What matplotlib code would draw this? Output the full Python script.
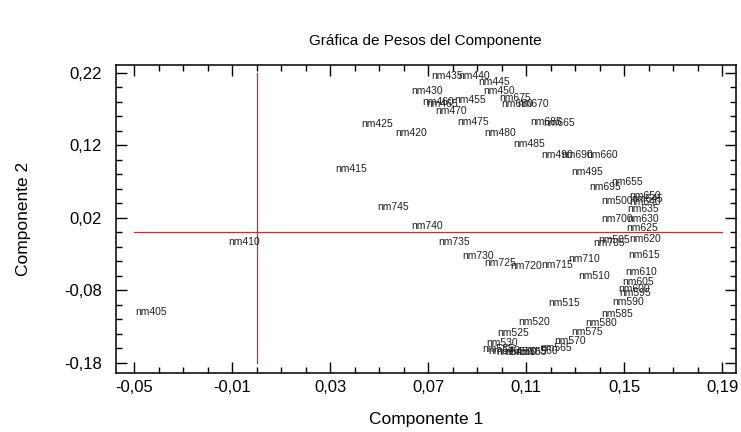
import matplotlib
matplotlib.use("Agg")
import matplotlib.pyplot as plt
from matplotlib.ticker import MultipleLocator, FuncFormatter

plt.rcParams['font.family'] = ['Liberation Sans', 'DejaVu Sans']

# wavelengths (labels) and component weights
labels = ["nm%d" % w for w in range(405, 750, 5)]
comp1 = [-0.0433, -0.0053, 0.0384, 0.0629, 0.0490, 0.0694, 0.0776, 0.0886, 0.0967, 0.0988,
         0.0869, 0.0739, 0.0755, 0.0792, 0.0882, 0.0992, 0.1110, 0.1224, 0.1350, 0.1470,
         0.1460, 0.1376, 0.1253, 0.1130, 0.1045, 0.1000, 0.0984, 0.1010, 0.1040, 0.1078,
         0.1118, 0.1163, 0.1220, 0.1278, 0.1347, 0.1404, 0.1470, 0.1514, 0.1543, 0.1539,
         0.1555, 0.1567, 0.1580, 0.1584, 0.1571, 0.1576, 0.1576, 0.1584, 0.1592, 0.1584,
         0.1510, 0.1408, 0.1233, 0.1127, 0.1053, 0.1061, 0.1180, 0.1306, 0.1420, 0.1470,
         0.1437, 0.1335, 0.1224, 0.1100, 0.0992, 0.0902, 0.0804, 0.0694, 0.0555]
comp2 = [-0.110, -0.013, 0.0876, 0.137, 0.150, 0.195, 0.216, 0.216, 0.2076, 0.195,
         0.183, 0.180, 0.177, 0.168, 0.152, 0.137, 0.122, 0.107, 0.0834, 0.0434,
         -0.0103, -0.060, -0.097, -0.1234, -0.1386, -0.152, -0.1607, -0.1634, -0.1648, -0.1648,
         -0.1648, -0.1634, -0.159, -0.150, -0.137, -0.125, -0.112, -0.096, -0.083, -0.078,
         -0.068, -0.0545, -0.031, -0.009, 0.0062, 0.0186, 0.0324, 0.042, 0.0462, 0.050,
         0.0697, 0.107, 0.151, 0.177, 0.1855, 0.177, 0.152, 0.107, 0.0628, 0.0186,
         -0.0145, -0.0366, -0.0448, -0.046, -0.042, -0.0324, -0.013, 0.009, 0.035]

x_ticks = [-0.05, -0.01, 0.03, 0.07, 0.11, 0.15, 0.19]
y_ticks = [-0.18, -0.08, 0.02, 0.12, 0.22]

fig = plt.figure(figsize=(7.41, 4.32), dpi=100)
ax = fig.add_axes([0.1565, 0.1366, 0.8365, 0.7129])

for lab, x, y in zip(labels, comp1, comp2):
    ax.text(x, y, lab, fontsize=7.5, ha='center', va='center', color='#202020')

red = '#d42a2a'
ax.plot([x_ticks[0], x_ticks[-1]], [0, 0], color=red, lw=0.9)
ax.plot([0, 0], [y_ticks[0], y_ticks[-1]], color=red, lw=0.9)

ax.set_xlim(-0.0575, 0.1955)
ax.set_ylim(-0.194, 0.231)
ax.set_xticks(x_ticks)
ax.set_yticks(y_ticks)
ax.xaxis.set_minor_locator(MultipleLocator(0.01))
ax.yaxis.set_minor_locator(MultipleLocator(0.02))
fmt = FuncFormatter(lambda v, p: ("%.2f" % v).replace('.', ','))
ax.xaxis.set_major_formatter(fmt)
ax.yaxis.set_major_formatter(fmt)
ax.tick_params(which='both', direction='in', top=True, right=True, width=1.0, labelsize=12)
ax.tick_params(which='major', length=8)
ax.tick_params(which='minor', length=4)
ax.tick_params(axis='y', pad=10)
ax.tick_params(axis='x', pad=5)
for s in ax.spines.values():
    s.set_linewidth(1.1)

ax.set_xlabel("Componente 1", fontsize=12.5, labelpad=12)
ax.set_ylabel("Componente 2", fontsize=12.5, labelpad=24)
fig.text(0.574, 0.905, "Gráfica de Pesos del Componente", fontsize=11, ha='center', va='center')

fig.savefig("out.png", dpi=100)
